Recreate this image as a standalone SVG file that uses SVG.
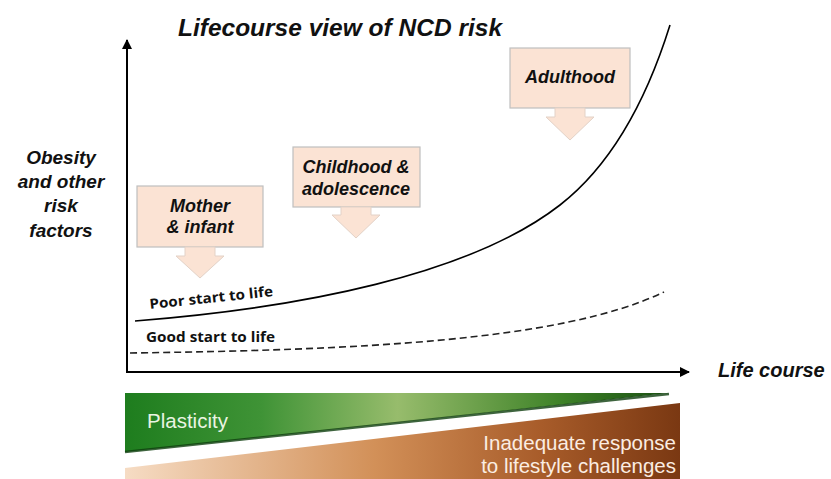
<svg xmlns="http://www.w3.org/2000/svg" width="831" height="479" viewBox="0 0 831 479">
<defs>
<style>
.bi{font-family:"Liberation Sans",Arial,sans-serif;font-weight:bold;font-style:italic;fill:#111;}
.box{fill:#FBE3D4;stroke:#BFBFBF;stroke-width:1.2;}
.arr{fill:#FBE3D4;stroke:#E3D2C7;stroke-width:1;}
.lbl{font-family:"Open Sans","Liberation Sans",sans-serif;font-weight:bold;font-size:14px;fill:#111;}
.bar{font-family:"Liberation Sans",Arial,sans-serif;font-size:20.5px;}
.bt{font-size:18px;}
</style>
<marker id="ah" viewBox="0 0 10 10" refX="9" refY="5" markerWidth="5" markerHeight="5" orient="auto" markerUnits="strokeWidth">
<path d="M0,0 L10,5 L0,10 z" fill="#000"/>
</marker>
<linearGradient id="gG" x1="125" y1="0" x2="670" y2="0" gradientUnits="userSpaceOnUse">
<stop offset="0" stop-color="#1E7D1E"/>
<stop offset="0.25" stop-color="#3F9336"/>
<stop offset="0.5" stop-color="#97BC6C"/>
<stop offset="0.8" stop-color="#3E8228"/>
<stop offset="1" stop-color="#1A4F12"/>
</linearGradient>
<linearGradient id="gB" x1="125" y1="0" x2="680" y2="0" gradientUnits="userSpaceOnUse">
<stop offset="0" stop-color="#F6DCC4"/>
<stop offset="0.45" stop-color="#D29058"/>
<stop offset="0.75" stop-color="#A85C2A"/>
<stop offset="1" stop-color="#7A3812"/>
</linearGradient>
</defs>

<g id="title"><text class="bi" x="340" y="36" font-size="24.5" text-anchor="middle">Lifecourse view of NCD risk</text></g>

<g id="y-label" class="bi" font-size="19" text-anchor="middle">
<text x="61" y="164">Obesity</text>
<text x="61" y="188">and other</text>
<text x="61" y="212">risk</text>
<text x="61" y="237">factors</text>
</g>

<g id="x-label"><text class="bi" x="718" y="377" font-size="20">Life course</text></g>

<g id="connectors" fill="none" stroke="#000">
<line id="y-axis" x1="127" y1="373" x2="127" y2="40" stroke-width="2" marker-end="url(#ah)"/>
<line id="x-axis" x1="126" y1="372" x2="689" y2="372" stroke-width="2" marker-end="url(#ah)"/>
<path id="poor-curve" d="M135,321 C300,308 470,275 560,205 C610,166 645,105 670,25" stroke-width="1.6"/>
<path id="good-curve" d="M130,353 C350,350 560,342 664,292" stroke="#222" stroke-width="1.6" stroke-dasharray="7,4"/>
</g>

<g id="mother-infant">
<rect class="box" x="137" y="186" width="126" height="61"/>
<path class="arr" d="M185,247 L215,247 L215,256 L224,256 L200,278 L176,256 L185,256 z"/>
<text class="bi bt" x="200" y="212" text-anchor="middle">Mother</text>
<text class="bi bt" x="200" y="233" text-anchor="middle">&amp; infant</text>
</g>

<g id="childhood">
<rect class="box" x="293" y="147" width="127" height="60"/>
<path class="arr" d="M341,207 L371,207 L371,215 L380,215 L356,238 L332,215 L341,215 z"/>
<text class="bi bt" x="356" y="173" text-anchor="middle">Childhood &amp;</text>
<text class="bi bt" x="356" y="195" text-anchor="middle">adolescence</text>
</g>

<g id="adulthood">
<rect class="box" x="510" y="48" width="120" height="60"/>
<path class="arr" d="M555,108 L585,108 L585,117 L594,117 L570,140 L546,117 L555,117 z"/>
<text class="bi bt" x="570" y="83" text-anchor="middle">Adulthood</text>
</g>

<g id="labels">
<text class="lbl" x="150" y="309" transform="rotate(-6 150 309)" textLength="124" lengthAdjust="spacingAndGlyphs">Poor start to life</text>
<text class="lbl" x="146" y="342" textLength="129" lengthAdjust="spacingAndGlyphs">Good start to life</text>
</g>

<g id="plasticity">
<polygon points="125,393 669,393 125,452" fill="url(#gG)"/>
<line x1="669" y1="394" x2="125" y2="452" stroke="#0E3E0E" stroke-width="2.5" opacity="0.8"/>
<text class="bar" x="147" y="428" fill="#EAF4E2">Plasticity</text>
</g>

<g id="inadequate">
<polygon points="680,403 680,479 125,479 125,468" fill="url(#gB)"/>
<text class="bar" x="676" y="450" fill="#FBEDE2" text-anchor="end">Inadequate response</text>
<text class="bar" x="676" y="473" fill="#FBEDE2" text-anchor="end">to lifestyle challenges</text>
</g>
</svg>
